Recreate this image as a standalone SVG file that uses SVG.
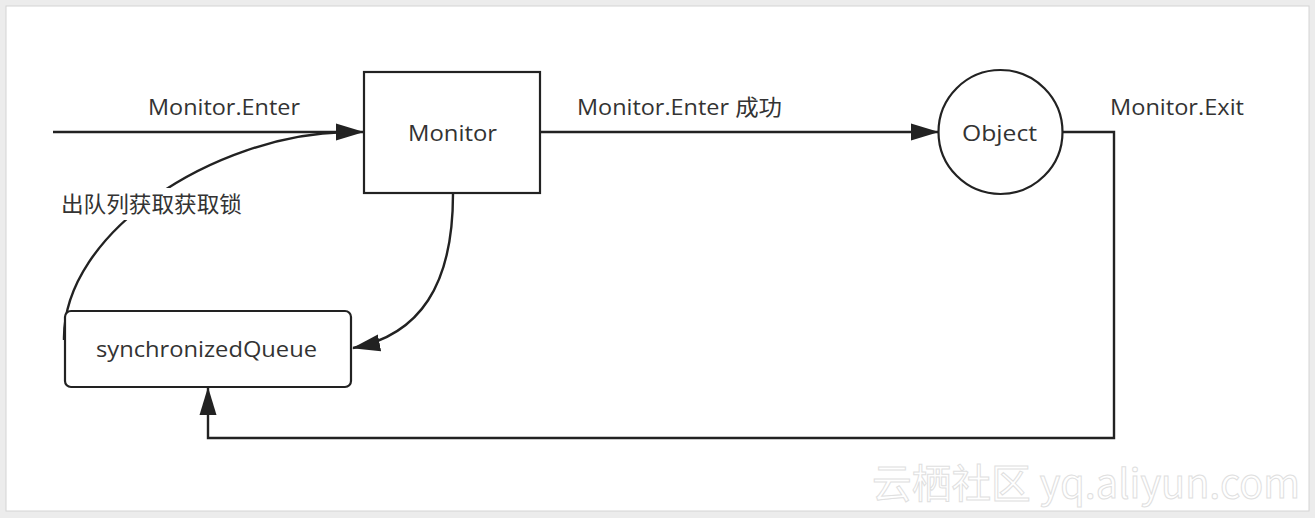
<svg xmlns="http://www.w3.org/2000/svg" width="1315" height="518" viewBox="0 0 1315 518">
<style>
.t{font-family:"Open Sans","Noto Sans CJK SC",sans-serif;font-size:22px;fill:#333}
.n{fill:#fff;stroke:#222;stroke-width:2.2}
.c{fill:none;stroke:#222;stroke-width:2.4}
.wm{font-family:"Noto Sans CJK SC","Open Sans",sans-serif;font-size:40px;fill:#fff;stroke:#e0e0e0;stroke-width:1}
</style>
<defs>
<marker id="ah" viewBox="0 0 28 18" refX="27" refY="9" markerWidth="28" markerHeight="18" markerUnits="userSpaceOnUse" orient="auto">
<path d="M0,0.5 L28,9 L0,17.5 z" fill="#222"/>
</marker>
</defs>
<rect x="0" y="0" width="1315" height="518" fill="#ececec"/>
<rect x="6" y="6" width="1303" height="505" fill="#fff" stroke="#d4d4d4" stroke-width="1"/>
<g id="connectors">
<path class="c" d="M53,132 L363,132" marker-end="url(#ah)"/>
<path class="c" d="M64,340 C62,232 215,135 345,132"/>
<path class="c" d="M540,132 L938,132" marker-end="url(#ah)"/>
<path class="c" d="M453,194 C453,285 420,335 353,348" marker-end="url(#ah)"/>
<path class="c" d="M1063,132 L1114,132 L1114,438 L208,438 L208,388" marker-end="url(#ah)"/>
<rect x="56" y="188" width="192" height="32" fill="#fff"/>
<text class="t" x="148" y="115" textLength="152" lengthAdjust="spacingAndGlyphs">Monitor.Enter</text>
<text class="t" x="577" y="115" textLength="205" lengthAdjust="spacingAndGlyphs">Monitor.Enter 成功</text>
<text class="t" x="1110" y="115" textLength="134" lengthAdjust="spacingAndGlyphs">Monitor.Exit</text>
<text class="t" x="61" y="212" textLength="181" lengthAdjust="spacingAndGlyphs">出队列获取获取锁</text>
</g>
<g id="monitor">
<rect class="n" x="364" y="72" width="176" height="121"/>
<text class="t" x="408" y="141" textLength="89" lengthAdjust="spacingAndGlyphs">Monitor</text>
</g>
<g id="object">
<circle class="n" cx="1000.5" cy="132" r="62"/>
<text class="t" x="962" y="141" textLength="75" lengthAdjust="spacingAndGlyphs">Object</text>
</g>
<g id="queue">
<rect class="n" x="65" y="311" width="286" height="76" rx="6"/>
<text class="t" x="96" y="357" textLength="221" lengthAdjust="spacingAndGlyphs">synchronizedQueue</text>
</g>
<text class="wm" x="872" y="498" textLength="428" lengthAdjust="spacingAndGlyphs">云栖社区 yq.aliyun.com</text>
</svg>
